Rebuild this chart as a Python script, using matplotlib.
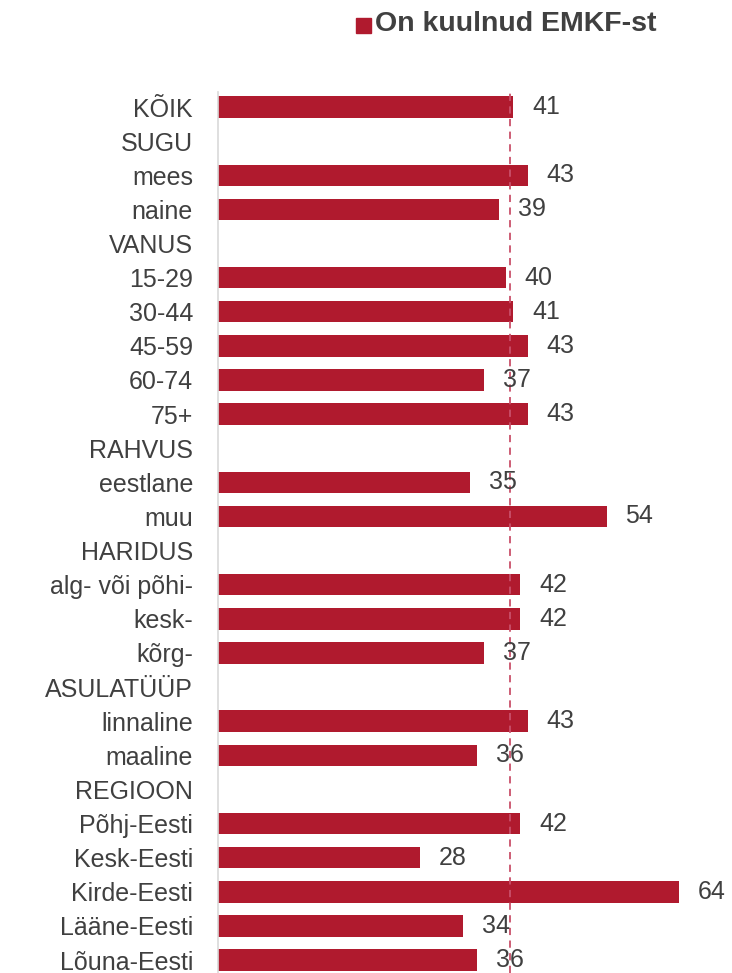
import numpy as np
import matplotlib.pyplot as plt

plt.rcParams['font.family'] = ['Liberation Sans', 'DejaVu Sans']

labels = ['KÕIK', 'SUGU', 'mees', 'naine', 'VANUS', '15-29', '30-44', '45-59',
          '60-74', '75+', 'RAHVUS', 'eestlane', 'muu', 'HARIDUS',
          'alg- või põhi-', 'kesk-', 'kõrg-', 'ASULATÜÜP', 'linnaline',
          'maaline', 'REGIOON', 'Põhj-Eesti', 'Kesk-Eesti', 'Kirde-Eesti',
          'Lääne-Eesti', 'Lõuna-Eesti']
values = [41, None, 43, 39, None, 40, 41, 43, 37, 43, None, 35, 54, None,
          42, 42, 37, None, 43, 36, None, 42, 28, 64, 34, 36]
avg_line = 40.5
series_name = 'On kuulnud EMKF-st'

red = '#B01A2E'
grey = '#404040'

W, H = 732, 973
fig = plt.figure(figsize=(W / 100, H / 100), dpi=100)
ax = fig.add_axes([218 / W, 0, (W - 218) / W, (H - 92) / H])

pos = np.arange(len(labels))
for i, v in enumerate(values):
    if v is None:
        continue
    ax.barh(i, v, height=0.63, color=red, edgecolor='none')
    ax.text(v + 2.6, i, str(v), va='center', ha='left', fontsize=18, color=grey)

ax.axvline(avg_line, color='#C9506A', lw=1.3, ls=(0, (4, 3)))

ax.set_xlim(0, (W - 218) / 7.2)
ax.set_ylim(25.38, -0.44)
ax.set_yticks(pos)
ax.set_yticklabels(labels, fontsize=18, color=grey)
ax.tick_params(axis='y', length=0, pad=18)
ax.set_xticks([])
for s in ['top', 'right', 'bottom']:
    ax.spines[s].set_visible(False)
ax.spines['left'].set_color('#D9D9D9')
ax.spines['left'].set_linewidth(1.2)

# legend
fig.patches.append(plt.Rectangle((356 / W, 1 - 33 / H), 15 / W, 15 / H,
                                 transform=fig.transFigure, color=red))
fig.text(375 / W, 1 - 24 / H, series_name, fontsize=20.5, fontweight='bold',
         color=grey, va='center', ha='left')

fig.savefig('out.png', dpi=100)
